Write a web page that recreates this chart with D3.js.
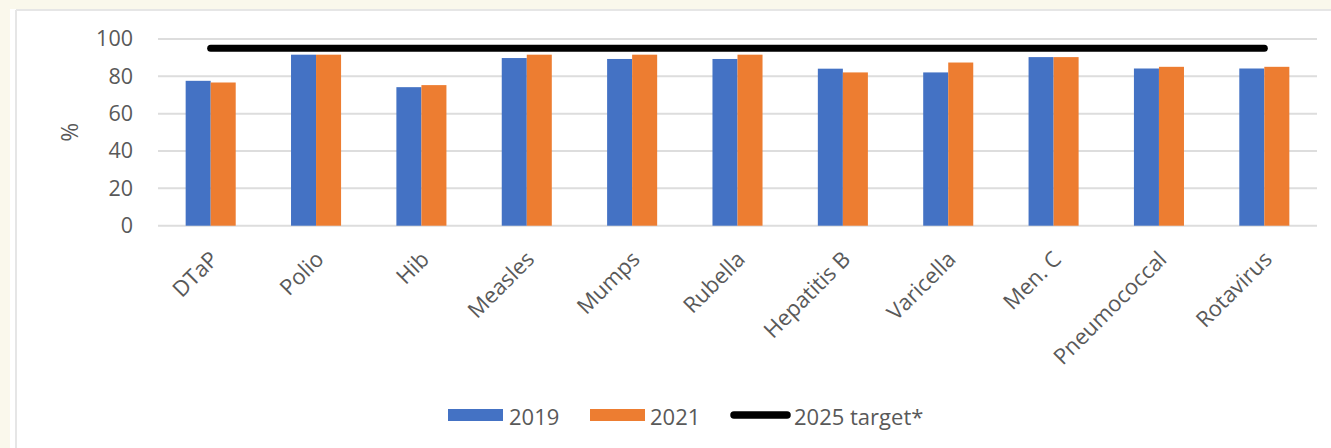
<!DOCTYPE html>
<html>
<head>
<meta charset="utf-8">
<script src="https://cdn.jsdelivr.net/npm/d3@7"></script>
<style>
  html, body { margin: 0; padding: 0; background: #faf8ec; }
  svg { display: block; }
  text { font-family: "Open Sans", "Liberation Sans", sans-serif; fill: #595959; }
</style>
</head>
<body>
<svg id="chart" width="1331" height="448"></svg>
<script>
const categories = ["DTaP", "Polio", "Hib", "Measles", "Mumps", "Rubella", "Hepatitis B", "Varicella", "Men. C", "Pneumococcal", "Rotavirus"];
const seriesNames = ["2019", "2021"];
const values2019 = [77.6, 91.6, 74.2, 89.8, 89.3, 89.3, 84.1, 82.1, 90.3, 84.2, 84.2];
const values2021 = [76.7, 91.6, 75.3, 91.6, 91.6, 91.6, 82.1, 87.4, 90.3, 85.1, 85.1];
const targetName = "2025 target*";
const targetValue = 95;
const yTicks = [0, 20, 40, 60, 80, 100];
const colors = { "2019": "#4472C4", "2021": "#ED7D31", target: "#000000" };

const svg = d3.select("#chart");
const W = 1331, H = 448;

// page background and panel
svg.append("rect").attr("x", 0).attr("y", 0).attr("width", W).attr("height", H).attr("fill", "#faf8ec");
svg.append("rect").attr("x", 10).attr("y", 9).attr("width", W - 10).attr("height", H - 9).attr("fill", "#ffffff");
svg.append("line").attr("x1", 16).attr("x2", W).attr("y1", 10).attr("y2", 10).attr("stroke", "#e6e6e6").attr("stroke-width", 2);
svg.append("line").attr("x1", 16).attr("x2", 16).attr("y1", 10).attr("y2", H).attr("stroke", "#e6e6e6").attr("stroke-width", 2);

const plot = { left: 158, right: 1317, top: 39, bottom: 225.7 };

const x = d3.scaleBand().domain(categories).range([plot.left, plot.right]).paddingInner(0).paddingOuter(0);
const bw = x.bandwidth();
const x1 = d3.scaleBand().domain(seriesNames).range([-bw * 0.2375, bw * 0.2375]);
const y = d3.scaleLinear().domain([0, 100]).range([plot.bottom, plot.top]);

// gridlines
svg.append("g").selectAll("line").data(yTicks).join("line")
  .attr("x1", plot.left).attr("x2", plot.right)
  .attr("y1", d => y(d)).attr("y2", d => y(d))
  .attr("stroke", "#dddddd").attr("stroke-width", 2);

// y axis labels
const yAxis = d3.axisLeft(y).tickValues(yTicks).tickSize(0).tickPadding(0);
const gy = svg.append("g").attr("transform", `translate(133,0)`).call(yAxis);
gy.select(".domain").remove();
gy.selectAll("text").attr("font-size", 21.5).attr("fill", "#595959")
  .style("font-family", '"Open Sans", sans-serif');

// y title
svg.append("text").attr("transform", `translate(78,${(plot.top + plot.bottom) / 2}) rotate(-90)`)
  .attr("text-anchor", "middle").attr("font-size", 23).text("%");

// bars
const data = categories.map((c, i) => ({ cat: c, vals: [{ s: "2019", v: values2019[i] }, { s: "2021", v: values2021[i] }] }));
const groups = svg.append("g").selectAll("g").data(data).join("g")
  .attr("transform", d => `translate(${x(d.cat) + bw / 2},0)`);
groups.selectAll("rect").data(d => d.vals).join("rect")
  .attr("x", d => x1(d.s)).attr("width", x1.bandwidth())
  .attr("y", d => y(d.v)).attr("height", d => y(0) - y(d.v))
  .attr("fill", d => colors[d.s]);

// target line
const line = d3.line().x(d => x(d) + bw / 2).y(() => y(targetValue));
svg.append("path").datum(categories).attr("d", line)
  .attr("fill", "none").attr("stroke", colors.target).attr("stroke-width", 7).attr("stroke-linecap", "round");

// x labels
const xAxis = d3.axisBottom(x).tickSize(0).tickPadding(0);
const gx = svg.append("g").attr("transform", `translate(0,${plot.bottom})`).call(xAxis);
gx.select(".domain").remove();
gx.selectAll("text")
  .attr("font-size", 22).attr("fill", "#595959")
  .style("font-family", '"Open Sans", sans-serif')
  .attr("text-anchor", "end")
  .attr("dy", null).attr("y", null)
  .attr("transform", "translate(9,35) rotate(-45)");

// legend
const leg = svg.append("g");
leg.append("rect").attr("x", 448).attr("y", 409).attr("width", 55).attr("height", 12).attr("fill", colors["2019"]);
leg.append("text").attr("x", 509).attr("y", 415.5).attr("dominant-baseline", "central").attr("font-size", 22).text(seriesNames[0]);
leg.append("rect").attr("x", 590).attr("y", 409).attr("width", 55).attr("height", 12).attr("fill", colors["2021"]);
leg.append("text").attr("x", 650).attr("y", 415.5).attr("dominant-baseline", "central").attr("font-size", 22).text(seriesNames[1]);
leg.append("line").attr("x1", 734).attr("x2", 787).attr("y1", 415).attr("y2", 415)
  .attr("stroke", colors.target).attr("stroke-width", 7.5).attr("stroke-linecap", "round");
leg.append("text").attr("x", 794).attr("y", 415.5).attr("dominant-baseline", "central").attr("font-size", 22).text(targetName);
</script>
</body>
</html>
